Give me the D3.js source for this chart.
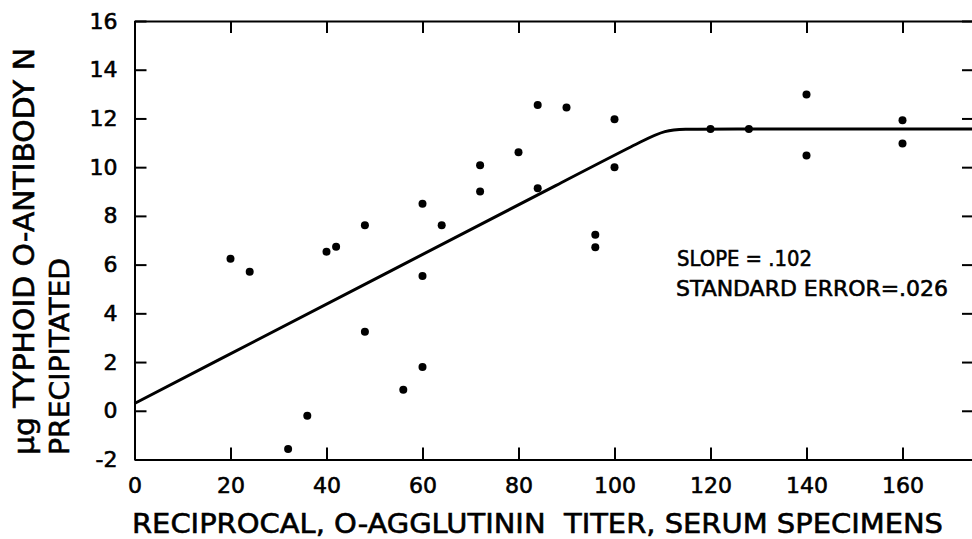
<!DOCTYPE html>
<html>
    <head>
        <meta charset="utf-8" />
        <script src="https://d3js.org/d3.v7.min.js"></script>
        <style>
            body {
                margin: 0;
                background: #fff;
            }
            svg {
                display: block;
            }
            svg text {
                font-family: 'DejaVu Sans', sans-serif;
                fill: #000;
                stroke: #000;
                stroke-width: 0.6px;
            }
        </style>
    </head>
    <body>
        <svg width="972" height="539"></svg>
        <script>
            // titer vs. antibody N
            const titer = [
                20, 24, 32, 36, 40, 42, 48, 48, 56, 60, 60, 60, 64, 72, 72,
                80, 84, 84, 90, 96, 96, 100, 100, 120, 128, 140, 140, 160, 160,
            ]
            const antibodyN = [
                6.24, 5.71, -1.57, -0.2, 6.53, 6.73, 7.62, 3.24, 0.86, 8.5,
                5.53, 1.8, 7.62, 10.08, 9.0, 10.61, 12.55, 9.13, 12.45, 7.23,
                6.71, 11.97, 10.0, 11.57, 11.57, 12.98, 10.48, 11.93, 10.97,
            ]

            // fitted line: slope .102 then a plateau
            const fitX = [0, 104, 110.5, 117, 175]
            const fitY = [0.3, 10.9, 11.57, 11.57, 11.57]

            const xTicks = [0, 20, 40, 60, 80, 100, 120, 140, 160]
            const yTicks = [-2, 0, 2, 4, 6, 8, 10, 12, 14, 16]

            const svg = d3.select('svg')

            const x = d3.scaleLinear().domain([0, 175]).range([134.5, 974.5])
            const y = d3.scaleLinear().domain([-2, 16]).range([459.5, 21])

            const fmt = (d) => String(d) // plain hyphen for -2

            // axes, ticks pointing inward
            svg.append('g')
                .attr('transform', `translate(0,${y(-2)})`)
                .call(
                    d3
                        .axisBottom(x)
                        .tickValues(xTicks)
                        .tickSize(-12)
                        .tickSizeOuter(0)
                        .tickPadding(18)
                        .tickFormat(fmt)
                )
            svg.append('g')
                .attr('transform', `translate(0,${y(16)})`)
                .call(
                    d3
                        .axisTop(x)
                        .tickValues(xTicks)
                        .tickSize(-12)
                        .tickSizeOuter(0)
                        .tickFormat('')
                )
            svg.append('g')
                .attr('transform', `translate(${x(0)},0)`)
                .call(
                    d3
                        .axisLeft(y)
                        .tickValues(yTicks)
                        .tickSize(-12)
                        .tickSizeOuter(0)
                        .tickPadding(17)
                        .tickFormat(fmt)
                )
            svg.append('g')
                .attr('transform', `translate(${x(175) - 0.5},0)`)
                .call(
                    d3
                        .axisRight(y)
                        .tickValues(yTicks)
                        .tickSize(-12)
                        .tickSizeOuter(0)
                        .tickFormat('')
                )

            svg.selectAll('.domain').style('stroke', '#000').style('stroke-width', '2px')
            svg.selectAll('.tick line').style('stroke', '#000').style('stroke-width', '2px')
            svg.selectAll('.tick text')
                .attr('font-family', null)
                .attr('font-size', null)
                .style('font-size', '22px')

            // fit line
            const line = d3
                .line()
                .x((d) => x(d[0]))
                .y((d) => y(d[1]))
                .curve(d3.curveBasis)

            svg.append('path')
                .datum(d3.zip(fitX, fitY))
                .attr('d', line)
                .style('fill', 'none')
                .style('stroke', '#000')
                .style('stroke-width', '3px')

            // points
            svg.selectAll('circle')
                .data(d3.zip(titer, antibodyN))
                .enter()
                .append('circle')
                .attr('cx', (d) => x(d[0]))
                .attr('cy', (d) => y(d[1]))
                .attr('r', 4)
                .style('fill', '#000')

            // annotation
            svg.append('text')
                .attr('x', 677)
                .attr('y', 266)
                .attr('textLength', 135)
                .attr('lengthAdjust', 'spacingAndGlyphs')
                .style('font-size', '22px')
                .text('SLOPE = .102')

            svg.append('text')
                .attr('x', 676)
                .attr('y', 296)
                .attr('textLength', 272)
                .attr('lengthAdjust', 'spacingAndGlyphs')
                .style('font-size', '22px')
                .text('STANDARD ERROR=.026')

            // axis titles
            svg.append('text')
                .attr('x', 132)
                .attr('y', 533)
                .attr('textLength', 811)
                .attr('lengthAdjust', 'spacingAndGlyphs')
                .style('font-size', '27px')
                .style('white-space', 'pre')
                .text('RECIPROCAL, O-AGGLUTININ  TITER, SERUM SPECIMENS')

            svg.append('text')
                .attr('transform', 'translate(34,455) rotate(-90)')
                .attr('textLength', 407)
                .attr('lengthAdjust', 'spacingAndGlyphs')
                .style('font-size', '28px')
                .text('µg TYPHOID O-ANTIBODY N')

            svg.append('text')
                .attr('transform', 'translate(69,455) rotate(-90)')
                .attr('textLength', 197)
                .attr('lengthAdjust', 'spacingAndGlyphs')
                .style('font-size', '27px')
                .text('PRECIPITATED')
        </script>
    </body>
</html>
